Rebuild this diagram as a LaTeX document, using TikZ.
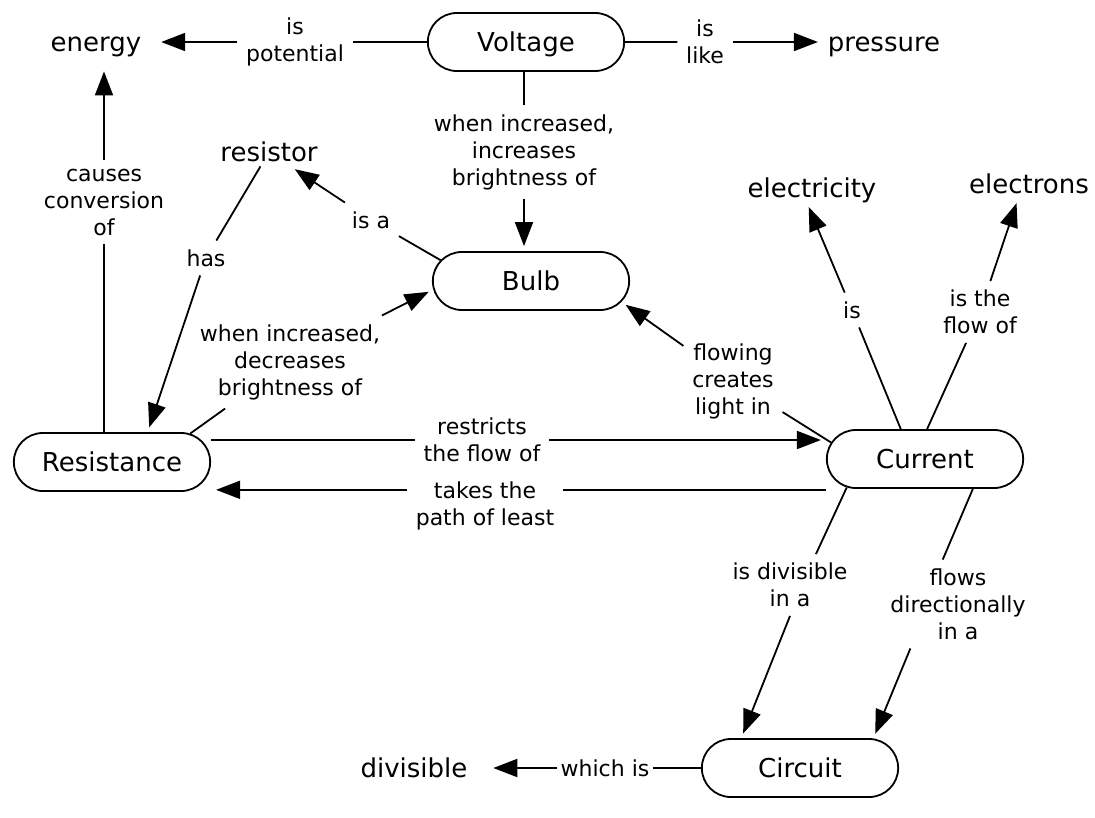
\documentclass[tikz,border=0pt]{standalone}
\usepackage{fontspec}
\setmainfont{DejaVu Sans}
\usetikzlibrary{arrows.meta, shapes.misc}

\begin{document}
\begin{tikzpicture}[
    x=1pt, y=-1pt,
    line width=1.8pt,
    concept/.style={
        draw,
        rounded rectangle,
        minimum width=203pt,
        minimum height=58pt,
        text height=19pt,
        text depth=0pt,
        font=\fontsize{26}{31}\selectfont
    },
    term/.style={
        inner sep=4pt,
        text height=19pt,
        text depth=0pt,
        font=\fontsize{26}{31}\selectfont
    },
    phrase/.style={
        inner sep=8pt,
        align=center,
        font=\fontsize{22}{27}\selectfont
    },
    arrow/.style={
        -{Triangle[length=24pt,width=18pt]},
        shorten >=5pt
    }
]
\useasboundingbox (0,0) rectangle (1095,817);

% Concepts
\node[concept] (volt) at (526,42) {Voltage};
\node[concept] (bulb) at (531,281) {Bulb};
\node[concept] (res) at (112,462) {Resistance};
\node[concept] (cur) at (925,459) {Current};
\node[concept] (circ) at (800,768) {Circuit};

\node[term, inner sep=14pt] (energy) at (96,42) {energy};
\node[term] (pressure) at (884,42) {pressure};
\node[term] (resistor) at (269,152) {resistor};
\node[term] (elec) at (812,188) {electricity};
\node[term] (elecs) at (1029,184) {electrons};
\node[term, inner sep=20pt] (divis) at (414,768) {divisible};

% Linking phrases
\node[phrase] (pot) at (295,42) {is\\potential};
\node[phrase] (like) at (705,42) {is\\like};
\node[phrase] (incr) at (524,152) {when increased,\\increases\\brightness of};
\node[phrase] (isa) at (371,220) {is a};
\node[phrase] (has) at (206,258) {has};
\node[phrase] (conv) at (104,202) {causes\\conversion\\of};
\node[phrase] (dec) at (290,362) {when increased,\\decreases\\brightness of};
\node[phrase] (flow) at (733,381) {flowing\\creates\\light in};
\node[phrase] (restr) at (482,440) {restricts\\the flow of};
\node[phrase] (takes) at (485,506) {takes the\\path of least};
\node[phrase] (iselec) at (852,310) {is};
\node[phrase] (flowof) at (980,312) {is the\\flow of};
\node[phrase] (divin) at (790,585) {is divisible\\in a};
\node[phrase] (dirin) at (958,604) {flows\\directionally\\in a};
\node[phrase, inner sep=3pt] (which) at (605,768) {which is};
\coordinate (tk) at ([yshift=33pt]takes.mid);

% Voltage
\draw (volt) -- (pot);
\draw[arrow] (pot) -- (energy);
\draw (volt) -- (like);
\draw[arrow] (like) -- (pressure);
\draw (incr |- volt.south) -- (incr);
\draw[arrow] (incr) -- (incr |- bulb.north);

% Bulb and Resistance
\draw (bulb.167) -- (isa);
\draw[arrow] (isa) -- (resistor);
\draw (resistor) -- (has);
\draw[arrow] (has) -- (res.40);
\draw (conv |- res.north) -- (conv);
\draw[arrow] (conv) -- (conv |- energy.south);
\draw (res.20) -- (dec);
\draw[arrow] (dec) -- (bulb.185);

% Current
\draw (cur.170) -- (flow);
\draw[arrow] (flow) -- (bulb.-13);
\draw (res.east |- restr) -- (restr);
\draw[arrow] (restr) -- (cur.west |- restr);
\draw (cur.west |- tk) -- (takes.east |- tk);
\draw[arrow] (takes.west |- tk) -- (res.east |- tk);
\draw (cur.129) -- (iselec);
\draw[arrow] (iselec) -- (elec.-110);
\draw (cur.86) -- (flowof);
\draw[arrow] (flowof) -- (elecs.-127);
\draw (cur.-160) -- (divin.50);
\draw[arrow] (divin.-90) -- (circ.153);
\draw (cur.-32) -- (dirin.109);
\draw[arrow] (dirin.-137) -- (circ.22);

% Circuit
\draw (circ) -- (which);
\draw[arrow] (which) -- (divis);

\end{tikzpicture}
\end{document}
